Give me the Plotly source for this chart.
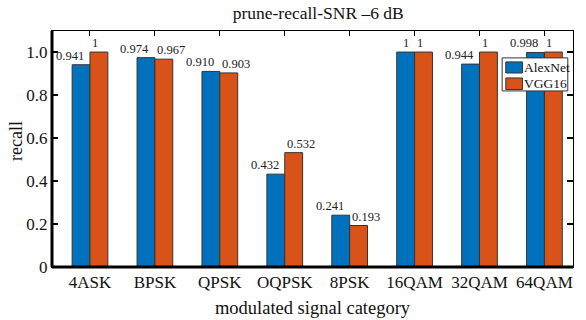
import plotly.graph_objects as go

categories = ["4ASK", "BPSK", "QPSK", "OQPSK", "8PSK", "16QAM", "32QAM", "64QAM"]
alexnet = [0.941, 0.974, 0.910, 0.432, 0.241, 1, 0.944, 0.998]
vgg16 = [1, 0.967, 0.903, 0.532, 0.193, 1, 1, 1]
series_names = ["AlexNet", "VGG16"]
y_ticks = [0, 0.2, 0.4, 0.6, 0.8, 1.0]
y_tick_text = ["0", "0.2", "0.4", "0.6", "0.8", "1.0"]


def fmt(v):
    return "1" if v == 1 else f"{v:.3f}"


FONT = "Liberation Serif"
COLORS = ["#0072BD", "#D95319"]
# label alignment per series: AlexNet labels end left of the category centre,
# VGG16 labels start at it
LABEL_STYLE = [("right", -4), ("left", 0)]

fig = go.Figure()
annotations = []
for name, vals, color, (anchor, shift) in zip(series_names, [alexnet, vgg16], COLORS, LABEL_STYLE):
    fig.add_trace(go.Bar(
        name=name, x=categories, y=vals, showlegend=False,
        marker=dict(color=color, line=dict(color="#333333", width=1)),
    ))
    for c, v in zip(categories, vals):
        annotations.append(dict(
            x=c, y=v, xref="x", yref="y", text=fmt(v), showarrow=False,
            xanchor=anchor, yanchor="bottom", xshift=shift, yshift=0,
            font=dict(family=FONT, size=12.5, color="#222"),
        ))

# legend box drawn in the top-right corner of the axes
shapes = [
    dict(type="rect", xref="paper", yref="paper", x0=0.864, x1=0.990, y0=0.746, y1=0.886,
         fillcolor="white", line=dict(color="#333", width=1), layer="above"),
]
leg_rows = [(0.869, 0.822), (0.801, 0.752)]
for name, color, (top, bot) in zip(series_names, COLORS, leg_rows):
    shapes.append(dict(type="rect", xref="paper", yref="paper", x0=0.871, x1=0.903, y0=bot, y1=top,
                       fillcolor=color, line=dict(color="#333", width=1), layer="above"))
    annotations.append(dict(x=0.903, y=(top + bot) / 2, xref="paper", yref="paper", text=name,
                            showarrow=False, xanchor="left", yanchor="middle", xshift=0,
                            font=dict(family=FONT, size=13.5, color="#111")))

# y-axis title
annotations.append(dict(x=0, y=0.534, xref="paper", yref="paper", text="recall",
                        textangle=-90, showarrow=False, xanchor="center", yanchor="middle",
                        xshift=-36, font=dict(family=FONT, size=18, color="#111")))

shapes += [
    dict(type="line", xref="paper", yref="paper", x0=0, x1=0, y0=0, y1=1,
         line=dict(color="#000", width=3), layer="above"),
    dict(type="line", xref="paper", yref="paper", x0=0, x1=1, y0=0, y1=0,
         line=dict(color="#000", width=3), layer="above"),
]

fig.update_layout(
    width=586, height=320,
    margin=dict(l=52, r=13, t=31, b=53),
    paper_bgcolor="white", plot_bgcolor="white",
    barmode="group", bargap=0.45, bargroupgap=0,
    font=dict(family=FONT, size=16, color="#111"),
    title=dict(text="prune-recall-SNR –6 dB", x=0.543, xanchor="center",
               y=0.96, yanchor="middle", font=dict(family=FONT, size=17.5, color="#111")),
    xaxis=dict(
        type="category", range=[-0.585, 7.44], automargin=False,
        showline=True, linecolor="#000", linewidth=1, mirror="allticks",
        ticks="inside", ticklen=5, tickwidth=1, tickcolor="#000",
        layer="below traces", showgrid=False, zeroline=False,
        tickfont=dict(family=FONT, size=17, color="#111"),
        title=dict(text="modulated signal category", standoff=9,
                   font=dict(family=FONT, size=18.5, color="#111")),
    ),
    yaxis=dict(
        range=[0, 1.098], tickvals=y_ticks, ticktext=y_tick_text, automargin=False,
        showline=True, linecolor="#000", linewidth=1, mirror="allticks",
        ticks="inside", ticklen=6, tickwidth=1.5, tickcolor="#000",
        showgrid=False, zeroline=False,
        tickfont=dict(family=FONT, size=17, color="#111"),
    ),
    showlegend=False,
    annotations=annotations,
    shapes=shapes,
)

fig.write_html("out.html")
